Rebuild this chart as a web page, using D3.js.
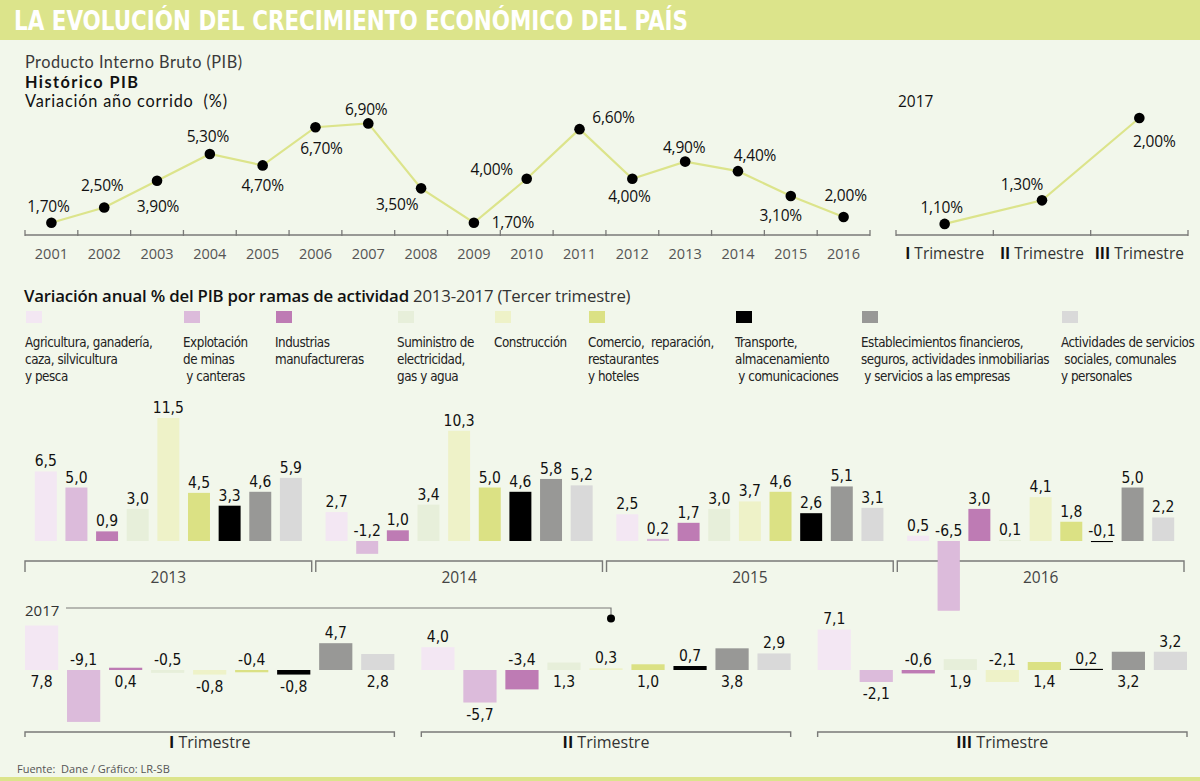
<!DOCTYPE html>
<html><head><meta charset="utf-8">
<script src="https://cdn.jsdelivr.net/npm/d3@7"></script>
<style>
html,body{margin:0;padding:0;background:#f2f7eb;}
svg{display:block;}
.reg{font-family:"Open Sans","Noto Sans",sans-serif;}
.hdr{font-family:Lato,"Open Sans",sans-serif;}
.nar{font-family:"Liberation Sans Narrow","DejaVu Sans Condensed","Open Sans",sans-serif;}
</style></head>
<body>
<svg id="c" width="1200" height="781"></svg>
<script>
// ---------- DATA ----------
const years = ["2001","2002","2003","2004","2005","2006","2007","2008","2009","2010","2011","2012","2013","2014","2015","2016"];
const pibValues = [1.7, 2.5, 3.9, 5.3, 4.7, 6.7, 6.9, 3.5, 1.7, 4.0, 6.6, 4.0, 4.9, 4.4, 3.1, 2.0];
const quarters = ["I", "II", "III"];
const pib2017 = [1.1, 1.3, 2.0];

const sectors = [
  ["Agricultura, ganadería,", "caza, silvicultura", "y pesca"],
  ["Explotación", "de minas", " y canteras"],
  ["Industrias", "manufactureras"],
  ["Suministro de", "electricidad,", "gas y agua"],
  ["Construcción"],
  ["Comercio,  reparación,", "restaurantes", "y hoteles"],
  ["Transporte,", "almacenamiento", " y comunicaciones"],
  ["Establecimientos financieros,", "seguros, actividades inmobiliarias", " y servicios a las empresas"],
  ["Actividades de servicios", " sociales, comunales", "y personales"]
];
const barYears = ["2013", "2014", "2015", "2016"];
const values2013 = [6.5, 5.0, 0.9, 3.0, 11.5, 4.5, 3.3, 4.6, 5.9];
const values2014 = [2.7, -1.2, 1.0, 3.4, 10.3, 5.0, 4.6, 5.8, 5.2];
const values2015 = [2.5, 0.2, 1.7, 3.0, 3.7, 4.6, 2.6, 5.1, 3.1];
const values2016 = [0.5, -6.5, 3.0, 0.1, 4.1, 1.8, -0.1, 5.0, 2.2];

const valuesQ1 = [7.8, -9.1, 0.4, -0.5, -0.8, -0.4, -0.8, 4.7, 2.8];
const valuesQ2 = [4.0, -5.7, -3.4, 1.3, 0.3, 1.0, 0.7, 3.8, 2.9];
const valuesQ3 = [7.1, -2.1, -0.6, 1.9, -2.1, 1.4, 0.2, 3.2, 3.2];

// ---------- STYLE / LAYOUT ----------
const sectorColors = ["#f3e7f3","#dcbbdb","#be7bb4","#e7efda","#eef2c8","#dbe184","#000000","#989896","#d9d9d9"];
const legendX = [25, 183, 275, 397, 494, 588, 735, 861, 1061];
const pibLabelOffsets = [[-3,-16],[-2,-22],[1,26],[-2,-17],[0,20],[6,21],[-2,-14],[-24,16],[39,0],[-35,-9],[34,-12],[-3,18],[-1,-14],[17,-16],[-10,20],[2,-21]];
const pib2017Offsets = [[-3,-16],[-20,-16],[15,24]];
const quarterLabelStart = [1, 0, 0]; // 1: first label below, 0: first label above (alternating)

const green = "#dce48b";
const axisGray = "#7a7a78";

const loc = d3.formatLocale({decimal: ",", thousands: ".", grouping: [3], currency: ["", ""], minus: "-"});
const f1 = loc.format(".1f");
const f2 = loc.format(".2f");

const svg = d3.select("#c");
svg.append("rect").attr("width", 1200).attr("height", 781).attr("fill", "#f2f7eb");

// Title band
svg.append("rect").attr("x", 0).attr("y", 0).attr("width", 1200).attr("height", 40).attr("fill", green);
svg.append("text").attr("class", "nar").attr("x", 14).attr("y", 30)
  .attr("font-size", 26).attr("font-weight", 700).attr("fill", "#fff")
  .attr("textLength", 674).attr("lengthAdjust", "spacingAndGlyphs")
  .text("LA EVOLUCIÓN DEL CRECIMIENTO ECONÓMICO DEL PAÍS");
svg.append("rect").attr("x", 0).attr("y", 777).attr("width", 1200).attr("height", 4).attr("fill", green);

// Headers
svg.append("text").attr("class", "hdr").attr("x", 25).attr("y", 67.5).attr("font-size", 16.3).attr("fill", "#3a3a3a")
  .attr("textLength", 217).attr("lengthAdjust", "spacing").text("Producto Interno Bruto (PIB)");
svg.append("text").attr("class", "hdr").attr("x", 25).attr("y", 88).attr("font-size", 16.3).attr("font-weight", 700).attr("fill", "#111")
  .attr("textLength", 113).attr("lengthAdjust", "spacing").text("Histórico PIB");
svg.append("text").attr("class", "hdr").attr("x", 25).attr("y", 107).attr("font-size", 16.3).attr("fill", "#111").attr("xml:space", "preserve")
  .attr("textLength", 202).attr("lengthAdjust", "spacing").text("Variación año corrido  (%)");
svg.append("text").attr("class", "reg").attr("x", 898).attr("y", 107).attr("font-size", 15.5).attr("fill", "#111").text("2017");

// ---------- Line chart (historic) ----------
const xH = d3.scaleBand().domain(years).range([25, 870]);
const yH = d3.scaleLinear().domain([0, 6.9]).range([255.2, 123.4]);
const axisY = 235;

function drawAxis(scale, y) {
  const g = svg.append("g");
  const r = scale.range();
  g.append("line").attr("x1", r[0]).attr("x2", r[1]).attr("y1", y).attr("y2", y).attr("stroke", axisGray).attr("stroke-width", 1.5);
  const edges = scale.domain().map(d => scale(d)).concat([r[1]]);
  g.selectAll("line.t").data(edges).join("line").attr("class", "t")
    .attr("x1", d => d).attr("x2", d => d).attr("y1", y - 5).attr("y2", y + 1).attr("stroke", axisGray).attr("stroke-width", 1.3);
  return g;
}
drawAxis(xH, axisY);
svg.append("g").selectAll("text").data(years).join("text").attr("class", "reg")
  .attr("x", d => xH(d) + xH.bandwidth() / 2).attr("y", 259).attr("text-anchor", "middle")
  .attr("font-size", 14.5).attr("fill", "#555").text(d => d);

const lineH = d3.line().x((d, i) => xH(years[i]) + xH.bandwidth() / 2).y(d => yH(d));
svg.append("path").datum(pibValues).attr("d", lineH).attr("fill", "none").attr("stroke", green).attr("stroke-width", 2.2);
svg.append("g").selectAll("circle").data(pibValues).join("circle")
  .attr("cx", (d, i) => xH(years[i]) + xH.bandwidth() / 2).attr("cy", d => yH(d)).attr("r", 5.3).attr("fill", "#000");
svg.append("g").selectAll("text").data(pibValues).join("text").attr("class", "reg")
  .attr("x", (d, i) => xH(years[i]) + xH.bandwidth() / 2 + pibLabelOffsets[i][0])
  .attr("y", (d, i) => yH(d) + pibLabelOffsets[i][1]).attr("dy", "0.35em")
  .attr("text-anchor", "middle").attr("font-size", 15.5).attr("fill", "#111").attr("letter-spacing", -0.2)
  .text(d => f2(d) + "%");

// 2017 line
const xQ = d3.scaleBand().domain(quarters).range([896, 1188]);
const yQ = d3.scaleLinear().domain([0, 2.0]).range([353.3, 118]);
drawAxis(xQ, axisY);
const qt = svg.append("g").selectAll("text").data(quarters).join("text").attr("class", "reg")
  .attr("x", d => xQ(d) + xQ.bandwidth() / 2).attr("y", 259).attr("text-anchor", "middle")
  .attr("font-size", 15.5).attr("fill", "#333");
qt.append("tspan").attr("font-weight", 700).attr("fill", "#111").text(d => d);
qt.append("tspan").text(" Trimestre");
const lineQ = d3.line().x((d, i) => xQ(quarters[i]) + xQ.bandwidth() / 2).y(d => yQ(d));
svg.append("path").datum(pib2017).attr("d", lineQ).attr("fill", "none").attr("stroke", green).attr("stroke-width", 2.2);
svg.append("g").selectAll("circle").data(pib2017).join("circle")
  .attr("cx", (d, i) => xQ(quarters[i]) + xQ.bandwidth() / 2).attr("cy", d => yQ(d)).attr("r", 5.3).attr("fill", "#000");
svg.append("g").selectAll("text").data(pib2017).join("text").attr("class", "reg")
  .attr("x", (d, i) => xQ(quarters[i]) + xQ.bandwidth() / 2 + pib2017Offsets[i][0])
  .attr("y", (d, i) => yQ(d) + pib2017Offsets[i][1]).attr("dy", "0.35em")
  .attr("text-anchor", "middle").attr("font-size", 15.5).attr("fill", "#111").attr("letter-spacing", -0.2)
  .text(d => f2(d) + "%");

// ---------- Section 2 header & legend ----------
const h2 = svg.append("text").attr("class", "reg").attr("x", 24).attr("y", 302).attr("font-size", 16.8).attr("fill", "#111").attr("letter-spacing", -0.2);
h2.append("tspan").attr("font-weight", 600).text("Variación anual % del PIB por ramas de actividad");
h2.append("tspan").attr("fill", "#333").text(" 2013-2017 (Tercer trimestre)");

const lg = svg.append("g").selectAll("g").data(sectors).join("g").attr("transform", (d, i) => `translate(${legendX[i]},0)`);
lg.append("rect").attr("x", 1).attr("y", 311).attr("width", 16).attr("height", 12).attr("fill", (d, i) => sectorColors[i]);
lg.each(function (lines) {
  d3.select(this).selectAll("text").data(lines).join("text").attr("class", "nar")
    .attr("x", 0).attr("y", (d, j) => 347 + j * 17).attr("font-size", 13.3).attr("letter-spacing", -0.45).attr("fill", "#222")
    .attr("xml:space", "preserve").text(d => d);
});

// ---------- Annual bars 2013-2016 ----------
const barData = [values2013, values2014, values2015, values2016];
const gx = d3.scaleBand().domain(barYears).range([25, 1184]).paddingInner(0.014);
const ix = d3.scaleBand().domain(d3.range(9)).range([0, gx.bandwidth()]).paddingInner(0.283).paddingOuter(0.32).align(0.5);
const yB = d3.scaleLinear().domain([0, 11.5]).range([541, 418]);

function bracket(x0, x1, y, h) {
  svg.append("path").attr("d", `M${x0},${y + h}V${y}H${x1}V${y + h}`).attr("fill", "none").attr("stroke", axisGray).attr("stroke-width", 1.4);
}

barYears.forEach((yr, gi) => {
  const g = svg.append("g").attr("transform", `translate(${gx(yr)},0)`);
  const vals = barData[gi];
  g.selectAll("rect").data(vals).join("rect")
    .attr("x", (d, i) => ix(i)).attr("width", ix.bandwidth())
    .attr("y", d => Math.min(yB(d), yB(0))).attr("height", d => Math.max(1, Math.abs(yB(d) - yB(0))))
    .attr("fill", (d, i) => sectorColors[i]);
  g.selectAll("text").data(vals).join("text").attr("class", "nar")
    .attr("x", (d, i) => ix(i) + ix.bandwidth() / 2).attr("y", d => Math.min(yB(d), yB(0)) - 5)
    .attr("text-anchor", "middle").attr("font-size", 15.5).attr("fill", "#111").text(d => f1(d));
});
barYears.forEach(yr => {
  bracket(gx(yr), gx(yr) + gx.bandwidth(), 561, 11);
  svg.append("text").attr("class", "reg").attr("x", gx(yr) + gx.bandwidth() / 2).attr("y", 583)
    .attr("text-anchor", "middle").attr("font-size", 15.5).attr("fill", "#444").text(yr);
});
// the 2016 mining bar sits over the bracket in the reference
{
  const gi = 3, i = 1, d = values2016[1];
  svg.append("rect").attr("x", gx(barYears[gi]) + ix(i)).attr("width", ix.bandwidth())
    .attr("y", yB(0)).attr("height", yB(d) - yB(0)).attr("fill", sectorColors[i]);
}

// ---------- 2017 quarterly bars ----------
svg.append("text").attr("class", "reg").attr("x", 25).attr("y", 616).attr("font-size", 15).attr("fill", "#333").text("2017");
svg.append("path").attr("d", "M66,608H611V615").attr("fill", "none").attr("stroke", axisGray).attr("stroke-width", 1.2);
svg.append("circle").attr("cx", 611).attr("cy", 618.5).attr("r", 4).attr("fill", "#000");

const qData = [valuesQ1, valuesQ2, valuesQ3];
const qLabels = ["I", "II", "III"];
const qx = d3.scaleBand().domain(qLabels).range([25, 1187]).paddingInner(0.068);
const qix = d3.scaleBand().domain(d3.range(9)).range([0, qx.bandwidth()]).paddingInner(0.21).paddingOuter(0);
const yS = d3.scaleLinear().domain([0, 7.8]).range([670, 625.5]);

qLabels.forEach((q, qi) => {
  const g = svg.append("g").attr("transform", `translate(${qx(q)},0)`);
  const vals = qData[qi];
  g.selectAll("rect").data(vals).join("rect")
    .attr("x", (d, i) => qix(i)).attr("width", qix.bandwidth())
    .attr("y", d => Math.min(yS(d), yS(0))).attr("height", d => Math.max(1, Math.abs(yS(d) - yS(0))))
    .attr("fill", (d, i) => sectorColors[i]);
  g.selectAll("text").data(vals).join("text").attr("class", "nar")
    .attr("x", (d, i) => qix(i) + qix.bandwidth() / 2)
    .attr("y", (d, i) => ((i + quarterLabelStart[qi]) % 2 === 1)
      ? Math.max(yS(d), yS(0)) + 17
      : Math.min(yS(d), yS(0)) - 5)
    .attr("text-anchor", "middle").attr("font-size", 15.5).attr("fill", "#111").text(d => f1(d));
  bracket(qx(q), qx(q) + qx.bandwidth(), 732, 5);
  const t = svg.append("text").attr("class", "reg").attr("x", qx(q) + qx.bandwidth() / 2).attr("y", 748)
    .attr("text-anchor", "middle").attr("font-size", 16).attr("fill", "#333");
  t.append("tspan").attr("font-weight", 700).attr("fill", "#111").text(q);
  t.append("tspan").text(" Trimestre");
});

svg.append("text").attr("class", "reg").attr("x", 17).attr("y", 773).attr("font-size", 11).attr("fill", "#555").attr("xml:space", "preserve").text("Fuente:  Dane / Gráfico: LR-SB");
</script>
</body></html>
